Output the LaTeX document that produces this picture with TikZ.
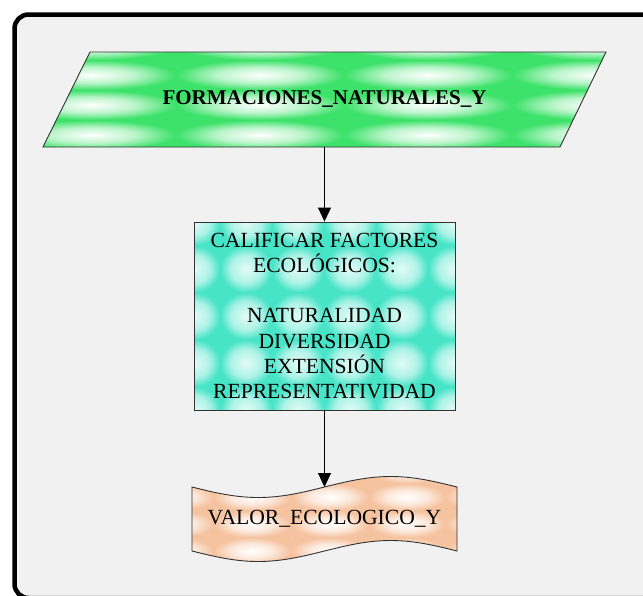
\documentclass[tikz,border=0pt]{standalone}
\usepackage{fontspec}
\setmainfont{Liberation Serif}
\usetikzlibrary{arrows.meta}

\definecolor{panelBg}{HTML}{F1F1F1}
\definecolor{gBase}{HTML}{3DE26A}
\definecolor{tBase}{HTML}{48E4C8}
\definecolor{pBase}{HTML}{F6C3A0}
\definecolor{edgeGray}{HTML}{333333}
\colorlet{gMid}{white!65!gBase}
\colorlet{tMid}{white!55!tBase}
\colorlet{tTop}{white!85!tBase}
\colorlet{pMid}{white!65!pBase}

% soft highlight used for each tile of the textured fills
\pgfdeclareradialshading{glowG}{\pgfpoint{0bp}{0bp}}{color(0bp)=(white); color(13bp)=(gMid); color(25bp)=(gBase); color(50bp)=(gBase)}
\pgfdeclareradialshading{glowT}{\pgfpoint{0bp}{0bp}}{color(0bp)=(tTop); color(15bp)=(tMid); color(25bp)=(tBase); color(50bp)=(tBase)}
\pgfdeclareradialshading{glowP}{\pgfpoint{0bp}{0bp}}{color(0bp)=(white); color(13bp)=(pMid); color(25bp)=(pBase); color(50bp)=(pBase)}

\tikzset{
  shapeedge/.style={draw=edgeGray, line width=0.9pt},
  flow/.style={draw=black, line width=0.9pt, -{Triangle[length=14pt,width=13pt]}},
  label/.style={font=\fontsize{21.6}{25.2}\selectfont, align=center, inner sep=0pt},
}

\begin{document}
\begin{tikzpicture}[x=1pt, y=-1pt]
  \useasboundingbox (0,0) rectangle (643,595);
  \clip (0,0) rectangle (643,595);

  % outer panel
  \fill[white] (0,0) rectangle (643,595);
  \draw[line width=4.5pt, fill=panelBg, rounded corners=14pt] (14.5,14.5) rectangle (670,598);

  % input data (parallelogram)
  \begin{scope}
    \clip (90,52) -- (606,52) -- (560,147) -- (43,147) -- cycle;
    \foreach \cx in {92,260,428,596}
      \foreach \cy in {45,75,105,135,165}
        \shade[shading=glowG] (\cx-84,\cy-15) rectangle (\cx+84,\cy+15);
  \end{scope}
  \draw[shapeedge] (90,52) -- (606,52) -- (560,147) -- (43,147) -- cycle;
  \node[label, font=\fontsize{21}{25.2}\selectfont\bfseries] (src) at (324.5,99.5) {FORMACIONES\_NATURALES\_Y};
  \coordinate (srcB) at (324.5,147);

  % process box
  \begin{scope}
    \clip (194,222) rectangle (455,410);
    \foreach \cx in {194,246,298,350,402,454}
      \foreach \cy in {222,269,316,363,410}
        \shade[shading=glowT] (\cx-26,\cy-23.5) rectangle (\cx+26,\cy+23.5);
  \end{scope}
  \node[shapeedge, minimum width=261pt, minimum height=188pt, inner sep=0pt] (calif) at (324.5,316) {};
  \node[label] (califT) at (calif.center) {CALIFICAR FACTORES\\ECOLÓGICOS:\\[25.2pt]NATURALIDAD\\DIVERSIDAD\\EXTENSIÓN\\REPRESENTATIVIDAD};

  % output document (wavy)
  \begin{scope}
    \clip (192,487) sin (258.25,497.5) cos (324.5,487) sin (390.75,476.5) cos (457,487)
          -- (457,551) sin (390.75,540.5) cos (324.5,551) sin (258.25,561.5) cos (192,551) -- cycle;
    \foreach \cx in {175,252,330,407,484}
      \foreach \cy in {470,497,524,551,578}
        \shade[shading=glowP] (\cx-38.5,\cy-13.5) rectangle (\cx+38.5,\cy+13.5);
  \end{scope}
  \draw[shapeedge] (192,487) sin (258.25,497.5) cos (324.5,487) sin (390.75,476.5) cos (457,487)
          -- (457,551) sin (390.75,540.5) cos (324.5,551) sin (258.25,561.5) cos (192,551) -- cycle;
  \node[label] (valor) at (324.5,519) {VALOR\_ECOLOGICO\_Y};
  \coordinate (valorT) at (324.5,487);

  % connectors
  \draw[flow] (srcB) -- (calif.north);
  \draw[flow] (calif.south) -- (valorT);
\end{tikzpicture}
\end{document}
